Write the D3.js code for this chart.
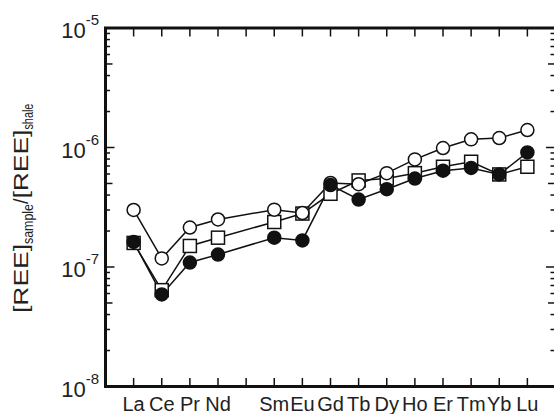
<!DOCTYPE html>
<html>
<head>
<meta charset="utf-8">
<script src="https://cdn.jsdelivr.net/npm/d3@7"></script>
<style>
  html, body { margin: 0; padding: 0; background: #fff; }
  svg { display: block; font-family: "Liberation Sans", Arial, Helvetica, sans-serif; }
  .lbl { fill: #222; }
</style>
</head>
<body>
<svg id="chart" width="554" height="414"></svg>
<script>
// REE shale-normalised patterns (Pm, index 4, has no data)
var elements = ["La", "Ce", "Pr", "Nd", "Pm", "Sm", "Eu", "Gd", "Tb", "Dy", "Ho", "Er", "Tm", "Yb", "Lu"];
var xLabels  = ["La", "Ce", "Pr", "Nd", "", "Sm", "Eu", "Gd", "Tb", "Dy", "Ho", "Er", "Tm", "Yb", "Lu"];
var openCircle = [3.0e-7, 1.18e-7, 2.14e-7, 2.5e-7, null, 3.02e-7, 2.83e-7, 5.05e-7, 4.93e-7, 6.1e-7, 7.95e-7, 9.9e-7, 1.17e-6, 1.2e-6, 1.4e-6];
var openSquare = [1.59e-7, 6.4e-8, 1.5e-7, 1.76e-7, null, 2.38e-7, 2.8e-7, 4.1e-7, 5.3e-7, 5.5e-7, 6.1e-7, 6.9e-7, 7.6e-7, 5.95e-7, 6.9e-7];
var filledCircle = [1.62e-7, 5.9e-8, 1.09e-7, 1.27e-7, null, 1.76e-7, 1.67e-7, 4.85e-7, 3.67e-7, 4.48e-7, 5.5e-7, 6.4e-7, 6.75e-7, 5.95e-7, 9.1e-7];
var decades = [-8, -7, -6, -5];

(function () {
  var svg = d3.select("#chart");
  var L = 105.5, R = 555.5, T = 28, B = 386.5, RF = 557;   // RF: right frame edge, just off the picture
  var x = d3.scaleLinear().domain([-1, 15]).range([L, R]);
  var y = d3.scaleLog().domain([1e-8, 1e-5]).range([B, T]);
  var g = svg.append("g");

  // minor + major ticks on the log axis (inward, both sides)
  var yt = [];
  decades.forEach(function (e, i) {
    if (i < decades.length - 1) for (var k = 1; k <= 9; k++) yt.push({ v: k * Math.pow(10, e), k: k });
  });
  yt.push({ v: 1e-5, k: 1 });
  function tlen(k) { return k === 1 ? 9 : (k === 5 ? 7 : 4.5); }
  yt.forEach(function (t) {
    g.append("line").attr("x1", L).attr("x2", L + tlen(t.k)).attr("y1", y(t.v)).attr("y2", y(t.v))
      .attr("stroke", "#111").attr("stroke-width", 1.5);
    g.append("line").attr("x1", RF).attr("x2", RF - tlen(t.k) - 2).attr("y1", y(t.v)).attr("y2", y(t.v))
      .attr("stroke", "#111").attr("stroke-width", 1.5);
  });
  elements.forEach(function (el, i) {
    g.append("line").attr("x1", x(i)).attr("x2", x(i)).attr("y1", B).attr("y2", B - 8.5)
      .attr("stroke", "#111").attr("stroke-width", 1.5);
    g.append("line").attr("x1", x(i)).attr("x2", x(i)).attr("y1", T).attr("y2", T + 8.5)
      .attr("stroke", "#111").attr("stroke-width", 1.5);
  });

  // frame
  g.append("rect").attr("x", L).attr("y", T).attr("width", RF + 1 - L).attr("height", B - T)
    .attr("fill", "none").attr("stroke", "#111").attr("stroke-width", 3);

  // y tick labels 10^n
  decades.forEach(function (e) {
    var t = svg.append("text").attr("class", "lbl").attr("x", 99).attr("y", y(Math.pow(10, e)) + 10)
      .attr("text-anchor", "end").attr("font-size", 22);
    t.append("tspan").text("10");
    t.append("tspan").attr("font-size", 15).attr("dy", -13).text(String(e));
  });

  // x labels
  xLabels.forEach(function (s, i) {
    if (!s) return;
    svg.append("text").attr("class", "lbl").attr("x", x(i)).attr("y", 410.5)
      .attr("text-anchor", "middle").attr("font-size", 20).text(s);
  });

  // y axis title
  var yt2 = svg.append("text").attr("class", "lbl").attr("font-size", 19.5)
    .attr("transform", "translate(28,313) rotate(-90)").attr("text-anchor", "start");
  yt2.append("tspan").attr("textLength", 69).attr("lengthAdjust", "spacingAndGlyphs").text("[REE]");
  yt2.append("tspan").attr("font-size", 14).attr("dy", 5).attr("textLength", 40).attr("lengthAdjust", "spacingAndGlyphs").text("sample");
  yt2.append("tspan").attr("dy", -5).text("/");
  yt2.append("tspan").attr("textLength", 69).attr("lengthAdjust", "spacingAndGlyphs").text("[REE]");
  yt2.append("tspan").attr("font-size", 14).attr("dy", 5).attr("textLength", 26).attr("lengthAdjust", "spacingAndGlyphs").text("shale");

  function pts(arr) { return arr.map(function (v, i) { return { i: i, v: v }; }).filter(function (d) { return d.v != null; }); }
  var line = d3.line().x(function (d) { return x(d.i); }).y(function (d) { return y(d.v); });
  [openSquare, openCircle, filledCircle].forEach(function (arr) {
    g.append("path").attr("fill", "none").attr("stroke", "#111").attr("stroke-width", 1.5).attr("d", line(pts(arr)));
  });

  g.selectAll("rect.sq").data(pts(openSquare)).enter().append("rect").attr("class", "sq")
    .attr("x", function (d) { return x(d.i) - 6.5; }).attr("y", function (d) { return y(d.v) - 6.5; })
    .attr("width", 13).attr("height", 13).attr("fill", "#fff").attr("stroke", "#111").attr("stroke-width", 1.5);
  g.selectAll("circle.oc").data(pts(openCircle)).enter().append("circle").attr("class", "oc")
    .attr("cx", function (d) { return x(d.i); }).attr("cy", function (d) { return y(d.v); }).attr("r", 6.5)
    .attr("fill", "#fff").attr("stroke", "#111").attr("stroke-width", 1.5);
  g.selectAll("circle.fc").data(pts(filledCircle)).enter().append("circle").attr("class", "fc")
    .attr("cx", function (d) { return x(d.i); }).attr("cy", function (d) { return y(d.v); }).attr("r", 6.5)
    .attr("fill", "#111").attr("stroke", "#111").attr("stroke-width", 1.5);
})();
</script>
</body>
</html>
